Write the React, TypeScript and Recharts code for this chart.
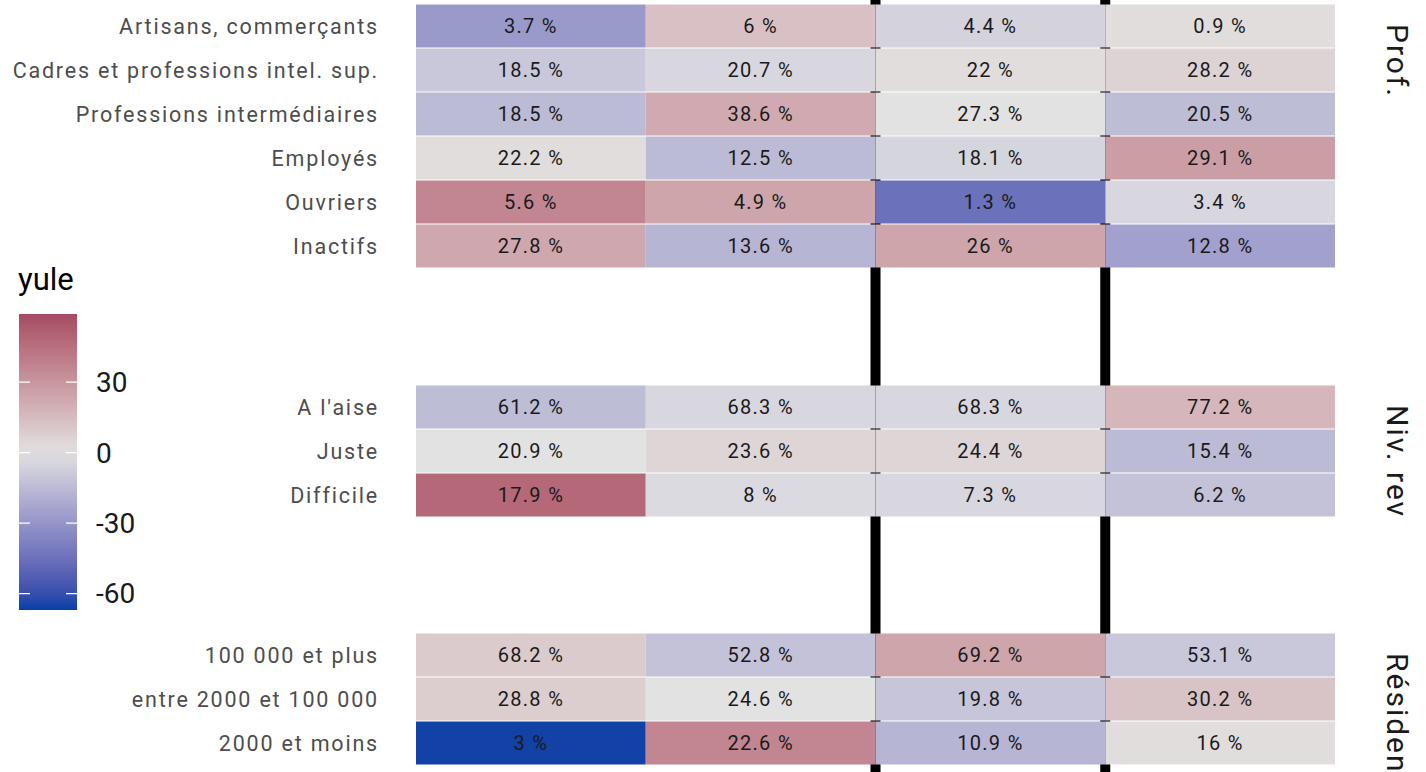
import React from 'react';
import { BarChart, Bar, Cell, XAxis, YAxis, LabelList, ReferenceLine, ComposedChart, Line } from 'recharts';

// columns of the table (groups), only used for the tile keys
const COLUMNS = ['g1', 'g2', 'g3', 'g4'];

const PROF_ROWS = [
  'Artisans, commerçants',
  'Cadres et professions intel. sup.',
  'Professions intermédiaires',
  'Employés',
  'Ouvriers',
  'Inactifs',
];
const PROF_PCT = [
  [3.7, 6, 4.4, 0.9],
  [18.5, 20.7, 22, 28.2],
  [18.5, 38.6, 27.3, 20.5],
  [22.2, 12.5, 18.1, 29.1],
  [5.6, 4.9, 1.3, 3.4],
  [27.8, 13.6, 26, 12.8],
];
const PROF_YULE = [
  [-28, 13, -6, 2],
  [-10, -4, 2, 6],
  [-15, 22, 0, -14],
  [2, -15, -5, 27],
  [36, 24, -45, -4],
  [23, -17, 24, -25],
];

const REV_ROWS = ["A l'aise", 'Juste', 'Difficile'];
const REV_PCT = [
  [61.2, 68.3, 68.3, 77.2],
  [20.9, 23.6, 24.4, 15.4],
  [17.9, 8, 7.3, 6.2],
];
const REV_YULE = [
  [-14, -4, -4, 17],
  [0, 5, 5, -15],
  [48, -3, -4, -12],
];

const RES_ROWS = ['100 000 et plus', 'entre 2000 et 100 000', '2000 et moins'];
const RES_PCT = [
  [68.2, 52.8, 69.2, 53.1],
  [28.8, 24.6, 19.8, 30.2],
  [3, 22.6, 10.9, 16],
];
const RES_YULE = [
  [9, -12, 24, -10],
  [8, 0, -11, 12],
  [-66, 36, -17, 2],
];

// columns separated by the thick black lines
const SEPARATORS = [2, 3];

const LEGEND_LIMITS = [-67, 59];
const LEGEND_TICKS = [-60, -30, 0, 30];

const LOW = '#0540a6';
const MID = '#e2e2e2';
const HIGH = '#9c3552';
const FONT = 'Roboto, "Noto Sans", sans-serif';

// --- colour scale (diverging, interpolated in Lab like scale_fill_gradient2) ---
const toLin = (c: number) => {
  const v = c / 255;
  return v <= 0.04045 ? v / 12.92 : Math.pow((v + 0.055) / 1.055, 2.4);
};
const fromLin = (v: number) => {
  const c = v <= 0.0031308 ? v * 12.92 : 1.055 * Math.pow(v, 1 / 2.4) - 0.055;
  return Math.round(Math.min(1, Math.max(0, c)) * 255);
};
const hexToLab = (hex: string) => {
  const r = toLin(parseInt(hex.slice(1, 3), 16));
  const g = toLin(parseInt(hex.slice(3, 5), 16));
  const b = toLin(parseInt(hex.slice(5, 7), 16));
  const x = (0.4124 * r + 0.3576 * g + 0.1805 * b) / 0.95047;
  const y = 0.2126 * r + 0.7152 * g + 0.0722 * b;
  const z = (0.0193 * r + 0.1192 * g + 0.9505 * b) / 1.08883;
  const f = (t: number) => (t > 0.008856 ? Math.cbrt(t) : 7.787 * t + 16 / 116);
  return [116 * f(y) - 16, 500 * (f(x) - f(y)), 200 * (f(y) - f(z))];
};
const labToHex = ([L, a, bb]: number[]) => {
  const fy = (L + 16) / 116;
  const fx = fy + a / 500;
  const fz = fy - bb / 200;
  const inv = (t: number) => (t * t * t > 0.008856 ? t * t * t : (t - 16 / 116) / 7.787);
  const x = inv(fx) * 0.95047;
  const y = inv(fy);
  const z = inv(fz) * 1.08883;
  const r = 3.2406 * x - 1.5372 * y - 0.4986 * z;
  const g = -0.9689 * x + 1.8758 * y + 0.0415 * z;
  const b = 0.0557 * x - 0.204 * y + 1.057 * z;
  return '#' + [r, g, b].map((v) => fromLin(v).toString(16).padStart(2, '0')).join('');
};
const LAB_LOW = hexToLab(LOW);
const LAB_MID = hexToLab(MID);
const LAB_HIGH = hexToLab(HIGH);
const maxAbs = Math.max(...LEGEND_LIMITS.map(Math.abs));

const yuleColor = (v: number) => {
  const t = Math.max(-1, Math.min(1, v / maxAbs));
  const end = t < 0 ? LAB_LOW : LAB_HIGH;
  const k = Math.abs(t);
  return labToHex(LAB_MID.map((m, i) => m + (end[i] - m) * k));
};

const buildRows = (labels: string[], pct: number[][], yule: number[][]) =>
  labels.map((label, r) => {
    const row: any = { label };
    COLUMNS.forEach((c, i) => {
      row[`w${i}`] = 1;
      row[`t${i}`] = `${pct[r][i]} %`;
      row[`f${i}`] = yuleColor(yule[r][i]);
    });
    return row;
  });

// tiles: full width, a hairline gap between rows
const Tile = (p: any) => (
  <rect
    x={p.x}
    y={p.y + 0.5}
    width={Math.max(0, p.width)}
    height={Math.max(0, p.height - 1)}
    fill={p.fill}
  />
);

const Facet = ({ rows, height }: { rows: any[]; height: number }) => (
  <BarChart
    width={1426}
    height={height}
    data={rows}
    layout="vertical"
    margin={{ top: 0, right: 91, bottom: 0, left: 0 }}
    barCategoryGap={0}
  >
    <XAxis type="number" domain={[0, 4]} hide />
    <YAxis
      type="category"
      dataKey="label"
      width={416}
      interval={0}
      axisLine={false}
      tickLine={false}
      tickSize={0}
      tickMargin={37}
      tick={{ fill: '#4d4d4d', fontSize: 21.5, fontFamily: FONT, letterSpacing: 1.8 }}
    />
    {COLUMNS.map((c, i) => (
      <Bar key={c} dataKey={`w${i}`} stackId="tiles" shape={Tile} isAnimationActive={false}>
        {rows.map((r, j) => (
          <Cell key={j} fill={r[`f${i}`]} />
        ))}
        <LabelList
          dataKey={`t${i}`}
          position="center"
          fill="#1a1a1a"
          fontSize={20}
          fontFamily={FONT}
          letterSpacing={1.3}
        />
      </Bar>
    ))}
  </BarChart>
);

const legendData = [{ name: 'yule', range: LEGEND_LIMITS }];
const gradStops = Array.from({ length: 21 }, (_, i) => {
  const v = LEGEND_LIMITS[1] - ((LEGEND_LIMITS[1] - LEGEND_LIMITS[0]) * i) / 20;
  return { offset: `${i * 5}%`, color: yuleColor(v) };
});

const STRIPS = [
  { label: 'Prof.', top: 4 },
  { label: 'Niv. rev', top: 385 },
  { label: 'Résidence', top: 633 },
];

export default function App() {
  const profData = buildRows(PROF_ROWS, PROF_PCT, PROF_YULE);
  const revData = buildRows(REV_ROWS, REV_PCT, REV_YULE);
  const resData = buildRows(RES_ROWS, RES_PCT, RES_YULE);
  const sepData = COLUMNS.map((c, i) => ({ i, v: 0.5 }));

  return (
    <div
      style={{
        position: 'absolute',
        left: 0,
        top: 0,
        width: 1426,
        height: 772,
        overflow: 'hidden',
        background: '#fff',
        fontFamily: FONT,
      }}
    >
      {/* black separators behind the tiles, spanning all panels */}
      <div style={{ position: 'absolute', left: 0, top: 0 }}>
        <ComposedChart
          width={1426}
          height={772}
          data={sepData}
          margin={{ top: 0, right: 91, bottom: 0, left: 416 }}
        >
          <XAxis dataKey="i" type="number" domain={[0, 4]} hide />
          <YAxis type="number" domain={[0, 1]} hide />
          <Line dataKey="v" stroke="none" dot={false} isAnimationActive={false} />
          {SEPARATORS.map((x) => (
            <ReferenceLine key={x} x={x} stroke="#000" strokeWidth={10} />
          ))}
        </ComposedChart>
      </div>

      <div style={{ position: 'absolute', left: 0, top: 4 }}>
        <Facet rows={profData} height={264} />
      </div>
      <div style={{ position: 'absolute', left: 0, top: 385 }}>
        <Facet rows={revData} height={132} />
      </div>
      <div style={{ position: 'absolute', left: 0, top: 633 }}>
        <Facet rows={resData} height={132} />
      </div>

      {/* facet strips */}
      <svg style={{ position: 'absolute', left: 0, top: 0 }} width={1426} height={772}>
        {STRIPS.map((s) => (
          <text
            key={s.label}
            transform={`translate(1387, ${s.top + 20}) rotate(90)`}
            fontSize={30}
            fontFamily={FONT}
            letterSpacing={2}
            fill="#1a1a1a"
          >
            {s.label}
          </text>
        ))}
      </svg>

      {/* legend */}
      <div style={{ position: 'absolute', left: 18, top: 261, fontSize: 31, lineHeight: 'normal', color: '#000' }}>
        yule
      </div>
      <div style={{ position: 'absolute', left: 19, top: 314 }}>
        <BarChart
          width={58 + 70}
          height={296}
          data={legendData}
          margin={{ top: 0, right: 0, bottom: 0, left: 0 }}
          barCategoryGap={0}
        >
          <defs>
            <linearGradient id="yuleGrad" x1="0" y1="0" x2="0" y2="1">
              {gradStops.map((s) => (
                <stop key={s.offset} offset={s.offset} stopColor={s.color} />
              ))}
            </linearGradient>
          </defs>
          <XAxis dataKey="name" hide />
          <YAxis
            orientation="right"
            type="number"
            domain={LEGEND_LIMITS}
            ticks={LEGEND_TICKS}
            width={70}
            axisLine={false}
            tickLine={false}
            tickSize={0}
            tickMargin={19}
            tick={{ fill: '#1a1a1a', fontSize: 28, fontFamily: FONT }}
          />
          <Bar dataKey="range" fill="url(#yuleGrad)" isAnimationActive={false} />
          {LEGEND_TICKS.map((t) => (
            <ReferenceLine key={t} y={t} stroke="#ffffff" strokeWidth={1.2} strokeDasharray="11 36 11" />
          ))}
        </BarChart>
      </div>
    </div>
  );
}
